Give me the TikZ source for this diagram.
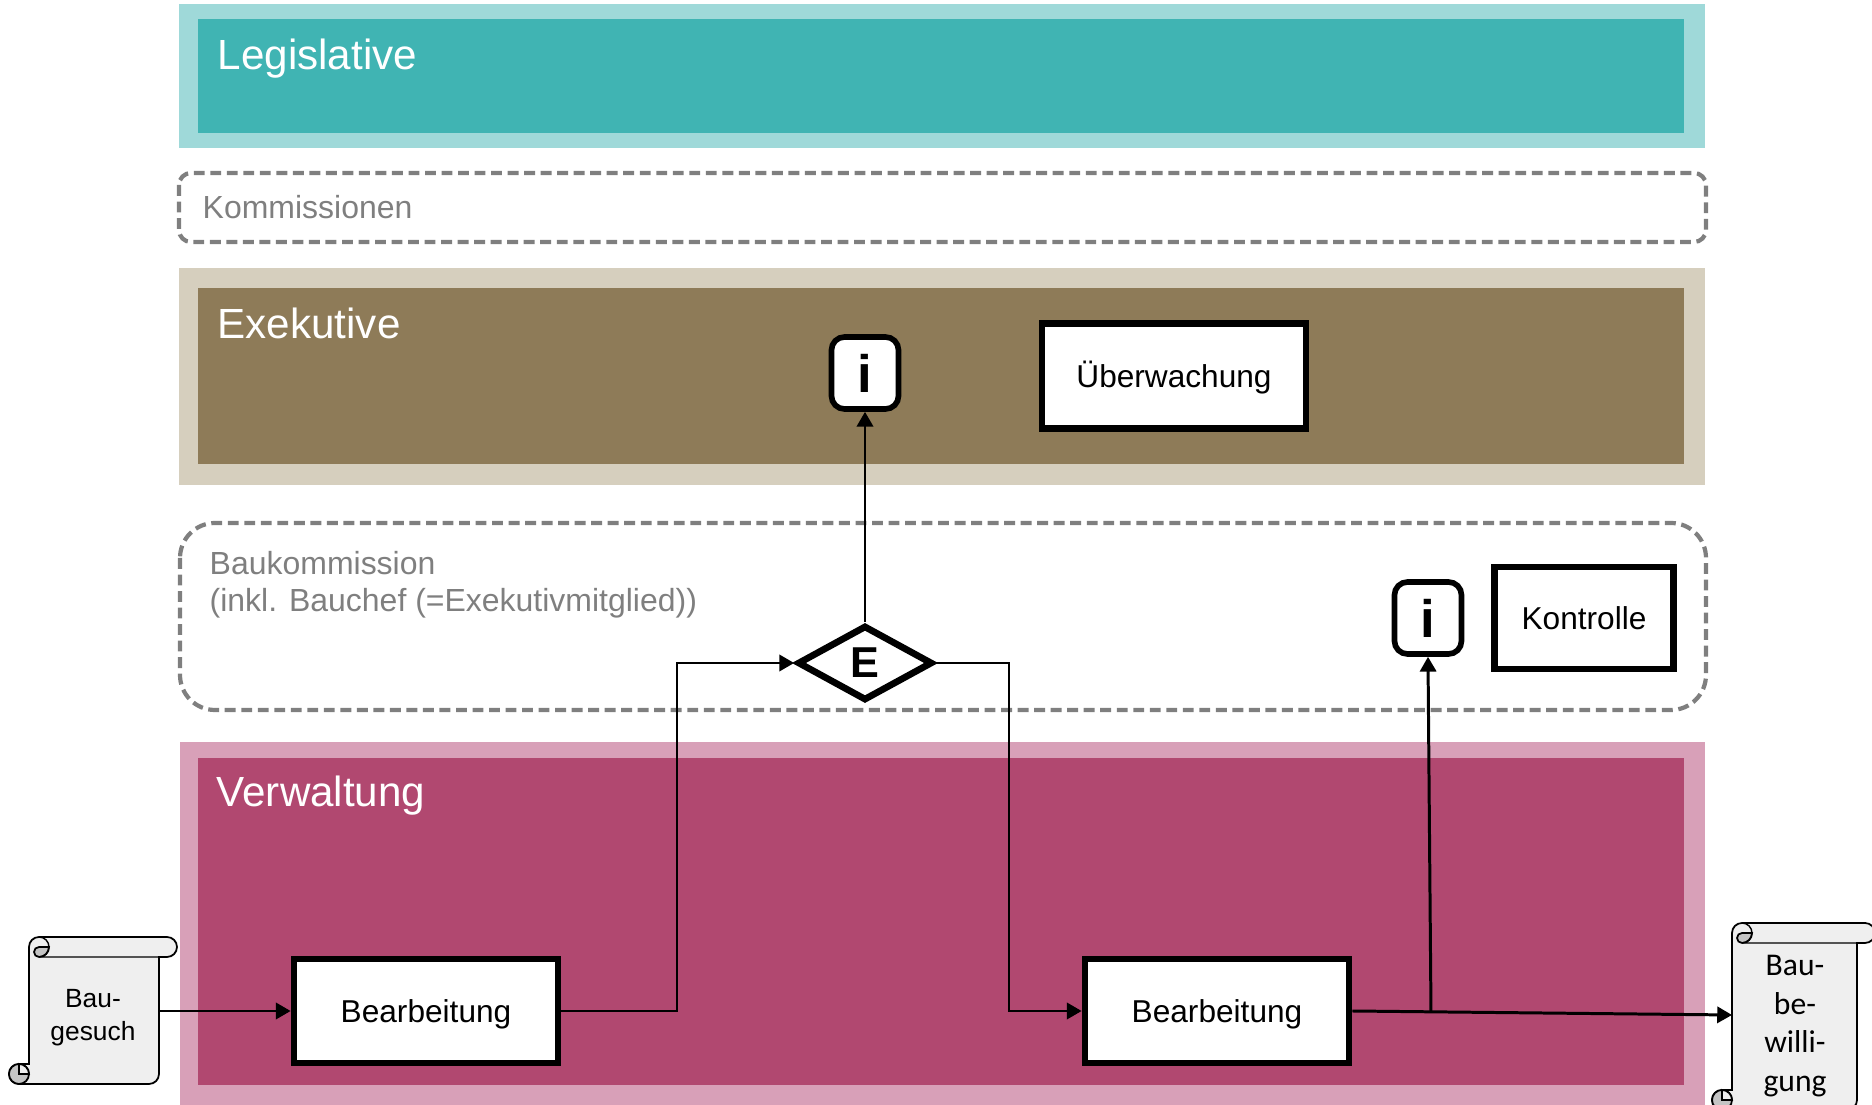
\documentclass[tikz,border=0pt]{standalone}
\usepackage{fontspec}
\usepackage{tikz}
\usetikzlibrary{arrows.meta,shapes.geometric}
\setmainfont{Liberation Sans}
\newfontfamily\carlito{Carlito}
\definecolor{legislativ}{HTML}{40B4B3}
\definecolor{legislativhell}{HTML}{9FD9D9}
\definecolor{exekutiv}{HTML}{8E7B58}
\definecolor{exekutivhell}{HTML}{D6CFBE}
\definecolor{verwaltung}{HTML}{B14870}
\definecolor{verwaltunghell}{HTML}{D8A0B8}
\definecolor{grau}{HTML}{7F7F7F}
\definecolor{papier}{HTML}{EFEFEF}
\definecolor{rolle}{HTML}{C4C4C4}
\tikzset{
  titel/.style={anchor=base west,inner sep=0,text=white,font=\fontsize{12}{14}\selectfont},
  notiz/.style={anchor=base west,inner sep=0,text=grau,align=left,font=\fontsize{9.1}{10.8}\selectfont},
  rahmen/.style={draw=grau,line width=1.2pt,dash pattern=on 3.1pt off 1.6pt},
  aufgabe/.style={draw=black,fill=white,line width=1.9pt,minimum width=2.64cm,minimum height=1.04cm,text height=8pt,text depth=1.4pt,font=\fontsize{9}{11}\selectfont},
  info/.style={draw=black,fill=white,line width=1.6pt,rounded corners=0.13cm,minimum width=0.67cm,minimum height=0.72cm,inner sep=0,font=\fontsize{15}{15}\bfseries\selectfont},
  entscheid/.style={diamond,draw=black,fill=white,line width=1.9pt,minimum width=1.35cm,minimum height=0.75cm,inner sep=0,font=\fontsize{12.3}{14}\bfseries\selectfont},
  flow/.style={line width=0.85pt,-{Triangle[length=4.2pt,width=4.6pt]}},
  papierlinie/.style={draw=black,line width=0.5pt,fill=papier},
  rollelinie/.style={draw=black,line width=0.5pt,fill=rolle},
}
% x,y of the left body edge and roll top, width, height, overhang of the roll
\newcommand\schriftrolle[5]{%
\begin{scope}[shift={(#1,#2)}]
\draw[papierlinie] (0,-0.1)arc[start angle=180,end angle=90,radius=0.1]--({#3+#5-0.1},0)
      arc[start angle=90,end angle=-90,radius=0.1]--(#3,-0.2)--(#3,{-#4+0.1})
      arc[start angle=0,end angle=-90,radius=0.1]--(-0.1,-#4)
      arc[start angle=270,end angle=90,radius=0.1]--(0,{-#4+0.2})--cycle;
\draw[rollelinie] (0.1,-0.2)arc[start angle=-90,end angle=-270,radius=0.05]--(0.2,-0.1)
      arc[start angle=0,end angle=-90,radius=0.1];
\draw (0.1,0)arc[start angle=90,end angle=-90,radius=0.1]--(#3,-0.2);
\draw[rollelinie] (-0.1,{-#4+0.1})circle[radius=0.1];
\draw[papierlinie] (-0.1,{-#4+0.1})--(0,{-#4+0.1})arc[start angle=0,end angle=90,radius=0.1]--cycle;
\end{scope}}

\begin{document}
\begin{tikzpicture}
%\draw[help lines] (0,0)grid(19,11);
\useasboundingbox (0,0)rectangle(18.72,11.05);
\draw (4.26,0.94)coordinate(a)
      (12.17,0.94)coordinate(b)
      (11.74,7.29)coordinate(c)
      (15.84,4.87)coordinate(d)
      (8.65,7.32)coordinate(e)
      (14.28,4.87)coordinate(f)
      (8.65,4.42)coordinate(g)
      (0.93,0.87)coordinate(h)
      (17.95,0.79)coordinate(i);
% panels
\fill[legislativhell] (1.79,11.01)rectangle(17.05,9.57);
\fill[legislativ] (1.98,10.86)rectangle(16.84,9.72);
\draw[rahmen,rounded corners=0.12cm] (1.79,9.32)rectangle(17.06,8.63);
\fill[exekutivhell] (1.79,8.37)rectangle(17.05,6.20);
\fill[exekutiv] (1.98,8.17)rectangle(16.84,6.41);
\draw[rahmen,rounded corners=0.35cm] (1.80,5.82)rectangle(17.06,3.95);
\fill[verwaltunghell] (1.80,3.63)rectangle(17.05,0);
\fill[verwaltung] (1.98,3.47)rectangle(16.84,0.20);
\draw (2.17,10.35)node(legislative)[titel]{Legislative};
\draw (2.02,8.86)node(kommissionen)[notiz]{Kommissionen};
\draw (2.17,7.66)node(exekutive)[titel]{Exekutive};
\draw (2.09,4.93)node(baukommission)[notiz]{Baukommission\\(inkl. Bauchef (=Exekutivmitglied))};
\draw (2.16,2.98)node(verwaltungstitel)[titel]{Verwaltung};
% scrolls
\schriftrolle{0.29}{1.68}{1.30}{1.47}{0.18}
\schriftrolle{17.32}{1.82}{1.25}{1.87}{0.18}
\draw (h)node(baugesuch)[minimum width=1.30cm,inner sep=0,align=center,font=\fontsize{7.5}{9.4}\selectfont]{Bau-\\gesuch};
\draw (i)node(baubewilligung)[minimum width=1.25cm,inner sep=0,align=center,font=\carlito\fontsize{9}{11}\selectfont]{Bau-\\be-\\willi-\\gung};
% boxes
\draw (a)node(bearbeitunga)[aufgabe]{Bearbeitung};
\draw (b)node(bearbeitungb)[aufgabe]{Bearbeitung};
\draw (c)node(ueberwachung)[aufgabe,minimum height=1.05cm]{Überwachung};
\draw (d)node(kontrolle)[aufgabe,minimum width=1.79cm,minimum height=1.02cm]{Kontrolle};
\draw (e)node(infoa)[info]{i};
\draw (f)node(infob)[info]{i};
\draw (g)node(entscheid)[entscheid]{E};
% connectors
\draw (14.31,0.93)coordinate(abzweig)
      (17.32,0.90)coordinate(ziel);
\draw[flow] (baugesuch.east|-bearbeitunga.west)--(bearbeitunga.west);
\draw[flow] (bearbeitunga.east)-|(6.77,4.42)--(entscheid.west);
\draw[flow] (entscheid.north)--(infoa.south);
\draw[flow] (entscheid.east)-|(10.09,0.94)--(bearbeitungb.west);
\draw[flow] (bearbeitungb.east)--(ziel);
\draw[flow] (abzweig)--(infob.south);
\end{tikzpicture}
\end{document}
